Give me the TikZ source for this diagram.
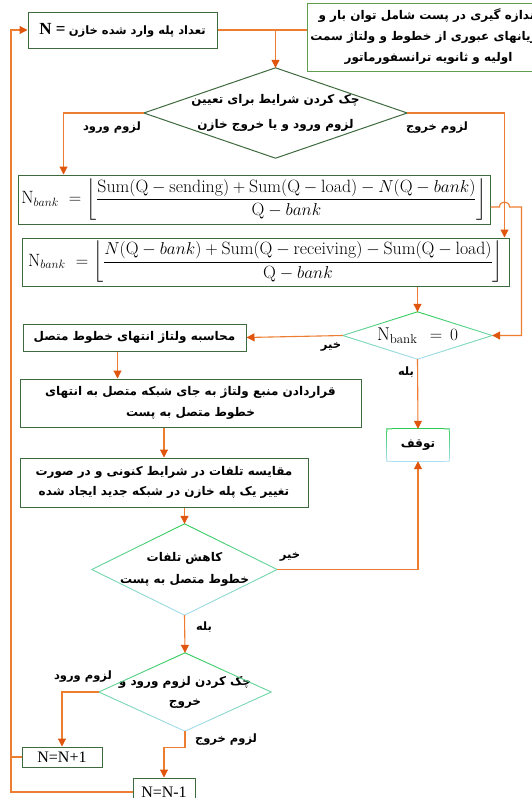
\documentclass[tikz,border=0pt]{standalone}
\usepackage{amsmath}
\usepackage{fontspec}
\usetikzlibrary{arrows.meta,calc}
\TeXXeTstate=1
\newfontfamily\fa[Script=Arabic]{DejaVu Sans}
\newfontfamily\tms{Liberation Serif}
% one right-to-left line of bold Persian text
\newcommand\fl[1]{{\fa\bfseries\beginR #1\endR}}
\newcommand\mr[1]{\mathrm{#1}}

\definecolor{lineC}{HTML}{ED7D31}
\definecolor{tipC}{HTML}{E0560E}
\definecolor{boxG}{HTML}{3E6B3E}
\definecolor{measG}{HTML}{5E9E4E}
\definecolor{gTop}{HTML}{2FCC55}
\definecolor{gBot}{HTML}{A8DDF2}

% edge drawn in short pieces whose colour runs from gTop (#3 %) to (#4 %)
\newcommand\gradedge[4]{%
  \foreach \k in {0,...,11}{%
    \pgfmathsetmacro\ta{\k/12}%
    \pgfmathsetmacro\tb{(\k+1)/12}%
    \pgfmathtruncatemacro\pc{#3+(#4-#3)*(\k+0.5)/12}%
    \draw[draw=gTop!\pc!gBot, line width=0.9pt, line cap=round]
      ($(#1)!\ta!(#2)$) -- ($(#1)!\tb!(#2)$);
  }}
% diamond outline on the four side anchors of a node
\newcommand\gdiamond[1]{%
  \gradedge{#1.north}{#1.west}{100}{50}%
  \gradedge{#1.north}{#1.east}{100}{50}%
  \gradedge{#1.west}{#1.south}{50}{0}%
  \gradedge{#1.east}{#1.south}{50}{0}}

\tikzset{
  box/.style={draw=boxG, line width=1pt, fill=white, inner sep=0pt, align=center},
  holder/.style={draw=none, inner sep=0pt, align=center},
  line/.style={draw=lineC, line width=1.1pt},
  arr/.style={line, -{Triangle[width=8pt,length=8pt,color=tipC]}},
  lbl/.style={inner sep=0pt, font=\fa\bfseries\fontsize{11.5}{13}\selectfont},
  ptext/.style={font=\fontsize{12}{20.5}\selectfont},
  formula/.style={font=\fontsize{17.8}{20}\selectfont}
}

\begin{document}
\begin{tikzpicture}[x=1pt,y=-1pt]
\useasboundingbox (0,0) rectangle (532,798);
\fill[white] (0,0) rectangle (532,798);
\clip (0,0) rectangle (532,798);

% ---- nodes ----
\node[box, minimum width=189pt, minimum height=36pt] (nbox) at (122.5,30)
  {{\tms\bfseries\fontsize{17}{20}\selectfont N =}\ {\fontsize{11.5}{13}\selectfont\fl{تعداد پله وارد شده خازن}}};
\node[box, draw=measG, minimum width=243pt, minimum height=68pt, font=\fontsize{12}{21}\selectfont] (meas) at (428.5,37)
  {\fl{اندازه گیری در پست شامل توان بار و}\\ \fl{جریانهای عبوری از خطوط و ولتاژ سمت}\\ \fl{اولیه و ثانویه ترانسفورماتور}};

\node[holder, minimum width=263pt, minimum height=90pt, font=\fontsize{12}{25}\selectfont] (d1) at (275.5,113)
  {\fl{چک کردن شرایط برای تعیین}\\ \fl{لزوم ورود و یا خروج خازن}};
\draw[draw=boxG, line width=1pt] (d1.north) -- (d1.east) -- (d1.south) -- (d1.west) -- cycle;

\node[box, minimum width=472pt, minimum height=49pt, formula] (f1) at (254,199.5)
  {$\mr{N}_{bank}\ =\left\lfloor\dfrac{\mr{Sum}(\mr{Q}-\mr{sending})+\mr{Sum}(\mr{Q}-\mr{load})-N(\mr{Q}-bank)}{\mr{Q}-bank}\right\rfloor$};
\node[box, minimum width=487pt, minimum height=48pt, formula] (f2) at (265.5,262)
  {$\mr{N}_{bank}\ =\left\lfloor\dfrac{N(\mr{Q}-bank)+\mr{Sum}(\mr{Q}-\mr{receiving})-\mr{Sum}(\mr{Q}-\mr{load})}{\mr{Q}-bank}\right\rfloor$};

\node[holder, minimum width=149pt, minimum height=47pt, font=\fontsize{18.5}{20}\selectfont] (d3) at (417.5,335.5)
  {$\mr{N}_{\mr{bank}}\;\,=\,0$};
\gdiamond{d3}

\node[box, minimum width=223pt, minimum height=27pt, ptext] (calc) at (134.5,337.5)
  {\fl{محاسبه ولتاژ انتهای خطوط متصل}};
\node[holder, minimum width=62pt, minimum height=32pt, ptext] (stop) at (418,445)
  {\fl{توقف}};
\gradedge{stop.north west}{stop.north east}{100}{100}
\gradedge{stop.north west}{stop.south west}{100}{0}
\gradedge{stop.north east}{stop.south east}{100}{0}
\gradedge{stop.south west}{stop.south east}{0}{0}

\node[box, minimum width=341pt, minimum height=48pt, ptext] (src) at (190.5,403)
  {\fl{قراردادن منبع ولتاژ به جای شبکه متصل به انتهای}\\ \fl{خطوط متصل به پست}};
\node[box, minimum width=288pt, minimum height=49pt, ptext] (cmp) at (164,482.5)
  {\fl{مقایسه تلفات در شرایط کنونی و در صورت}\\ \fl{تغییر یک پله خازن در شبکه جدید ایجاد شده}};

\node[holder, minimum width=185pt, minimum height=91pt, font=\fontsize{12}{22}\selectfont] (d4) at (184.5,569.5)
  {\fl{کاهش تلفات}\\ \fl{خطوط متصل به پست}};
\gdiamond{d4}

\node[holder, minimum width=172pt, minimum height=78pt, font=\fontsize{12}{20}\selectfont] (d5) at (185,692)
  {\fl{چک کردن لزوم ورود و}\\ \fl{خروج}};
\gdiamond{d5}

\node[box, minimum width=80pt, minimum height=20pt, font=\tms\fontsize{16}{18}\selectfont] (inc) at (62,757) {N=N+1};
\node[box, minimum width=62pt, minimum height=28pt, font=\tms\fontsize{16}{18}\selectfont] (dec) at (164,792) {N=N-1};

% ---- branch labels ----
\node[lbl] (l1) at (112,128) {\beginR لزوم ورود\endR};
\node[lbl] (l2) at (437,128) {\beginR لزوم خروج\endR};
\node[lbl] (l3) at (331,347) {\beginR خیر\endR};
\node[lbl] (l4) at (406,372) {\beginR بله\endR};
\node[lbl] (l5) at (290,557) {\beginR خیر\endR};
\node[lbl] (l6) at (204,627) {\beginR بله\endR};
\node[lbl] (l7) at (83,677) {\beginR لزوم ورود\endR};
\node[lbl] (l8) at (226,740) {\beginR لزوم خروج\endR};

% ---- connectors ----
\draw[line] (nbox.east) -- (nbox.east -| meas.west);
\draw[arr] (nbox.east -| d1.north) -- (d1.north);
\draw[arr] (d1.west) -| ($(f1.north west)+(46,0)$);
\draw[arr] (d1.east) -| ($(f2.north east)+(-5,0)$);

\coordinate (ja) at ($(f1.east)+(9,7.5)$);
\coordinate (jb) at ($(ja)+(10,0)$);
\coordinate (jc) at ($(jb)+(12,0)$);
\draw[arr] ($(f1.east)+(0,7.5)$) -- (ja) .. controls ($(ja)+(0,-6.7)$) and ($(jb)+(0,-6.7)$) .. (jb)
  -- (jc) -- (jc |- d3.east) -- (d3.east);

\draw[arr] (d3.north |- f2.south) -- (d3.north);
\draw[arr] (d3.west) -- (calc.east);
\draw[arr] (d3.south) -- (stop.north);

\coordinate (ca) at ($(calc.south)+(-17,0)$);
\draw[arr] (ca) -- (ca |- src.north);
\draw[arr] (cmp.north |- src.south) -- (cmp.north);
\draw[arr] (d4.north |- cmp.south) -- (d4.north);
\draw[arr] (d4.east) -| (stop.south);
\draw[arr] (d4.south) -- (d5.north);
\draw[arr] (d5.west) -| (inc.north);
\draw[arr] (d5.south) -- ++(0,16) -| (dec.north);

\coordinate (fb) at (11,0);
\draw[line] (inc.west) -- (inc.west -| fb);
\draw[arr] (dec.west) -- (dec.west -| fb) |- (nbox.west);
\end{tikzpicture}
\end{document}
